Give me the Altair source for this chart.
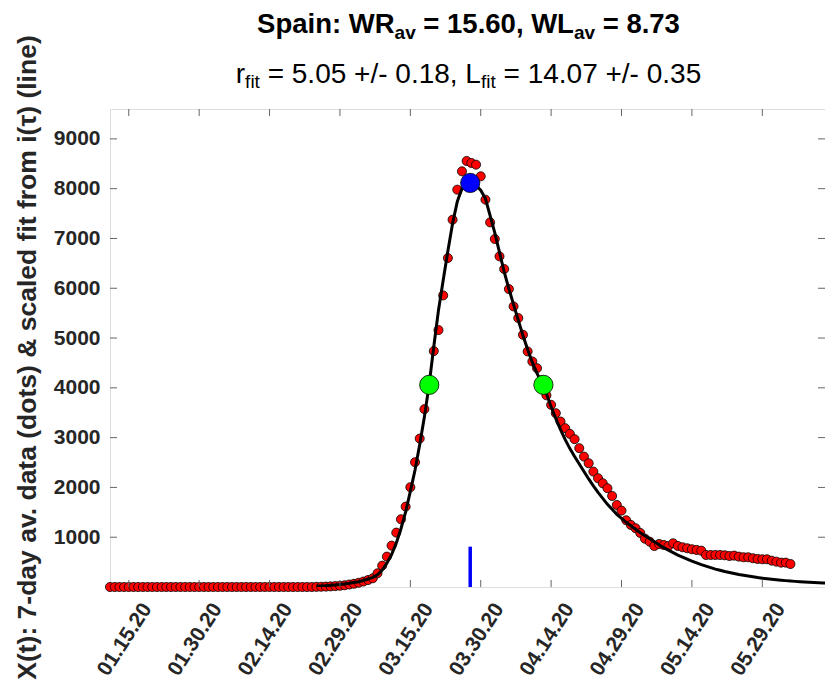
import altair as alt
import pandas as pd

# ---------------- data ----------------
DATA_START = "2020-01-11"
dot_values = [
    0, 0, 0, 0, 0, 0, 0, 0, 0, 0, 0, 0, 0, 0, 0, 0, 0, 0, 0, 0, 0, 0,
    0, 0, 0, 0, 0, 0, 0, 0, 0, 0, 0, 0, 0, 0, 0, 0, 0, 0, 0, 0, 0, 0,
    3, 5, 8, 12, 18, 25, 35, 50, 65, 85, 110, 140, 175, 275,
    429, 610, 831, 1092, 1360, 1614, 2004, 2506, 2981, 3572,
    4150, 4738, 5160, 5856, 6607, 7377, 7980, 8348, 8556, 8516, 8482, 8248, 7779,
    7323, 6989, 6640, 6386, 5984, 5634, 5401, 5065, 4730, 4529, 4395,
    4150, 3850, 3658, 3491, 3323, 3190, 3075, 2969, 2788, 2619, 2486, 2318, 2185,
    2084, 1984, 1829, 1648, 1534,
    1340, 1246, 1180, 1085, 970, 911, 824, 864, 844, 824, 878, 824, 798, 778,
    758, 744, 730,
    643, 643, 643, 643, 637, 623, 630, 610, 597, 597, 577, 563, 557, 557, 529,
    509, 489, 489, 462,
]

FIT_START = "2020-02-24"
fit_values = [
    18, 22, 27, 33, 41, 50, 61, 74, 90, 105, 130, 160, 195, 245,
    340, 480, 650, 880, 1170, 1510, 1920, 2350, 2860, 3420,
    4060, 4830, 5560, 6160, 6750, 7300, 7740, 8000, 8100, 8110, 8060, 7970, 7800,
    7460, 7110, 6720, 6330, 5990, 5670, 5360, 5050, 4770, 4510, 4290,
    4100, 3880, 3620, 3380, 3160, 2960, 2780, 2620, 2470, 2320, 2170, 2030, 1900,
    1780, 1660, 1560, 1460, 1380, 1300, 1230, 1160, 1090, 1030, 970, 910, 850,
    790, 740, 690, 640, 600, 560, 520, 485, 450, 420, 390, 360, 335, 310, 290,
    270, 250, 235, 220, 205, 190, 178, 166, 155, 145, 136, 128, 120, 113, 106,
    100, 95, 90, 86, 82, 78,
]

tick_dates = ["2020-01-15", "2020-01-30", "2020-02-14", "2020-02-29", "2020-03-15",
              "2020-03-30", "2020-04-14", "2020-04-29", "2020-05-14", "2020-05-29"]
y_ticks = [1000, 2000, 3000, 4000, 5000, 6000, 7000, 8000, 9000]

key_dates = ["2020-03-19T00:43:00Z", "2020-03-27T18:14:00Z", "2020-04-12T08:38:00Z"]
key_values = [4060, 8115, 4060]
key_colors = ["#00ff00", "#0000ff", "#00ff00"]

bar_date = ["2020-03-27T18:14:00Z"]
bar_low = [0]
bar_high = [810]

Y_TITLE = "X(t): 7-day av. data (dots) & scaled fit from i(\u03c4) (line)"
TITLE_1 = [("Spain: WR", "main"), ("av", "sub"), (" = 15.60, WL", "main"),
           ("av", "sub"), (" = 8.73", "main")]
TITLE_2 = [("r", "main"), ("fit", "sub"), (" = 5.05 +/- 0.18, L", "main"),
           ("fit", "sub"), (" = 14.07 +/- 0.35", "main")]

# ---------------- tables ----------------
def iso(dates):
    return [d.strftime("%Y-%m-%dT00:00:00Z") for d in dates]

dots = pd.DataFrame({
    "date": iso(pd.date_range(DATA_START, periods=len(dot_values), freq="D")),
    "v": dot_values,
})
fit = pd.DataFrame({
    "date": iso(pd.date_range(FIT_START, periods=len(fit_values), freq="D")),
    "v": fit_values,
})
keys = pd.DataFrame({"date": key_dates, "v": key_values, "c": key_colors})
bar = pd.DataFrame({"date": bar_date, "v": bar_low, "v2": bar_high})
xt = pd.DataFrame({"date": [d + "T00:00:00Z" for d in tick_dates]})
yt = pd.DataFrame({"v": y_ticks})
one = pd.DataFrame({"k": [0]})

W, H = 715, 478
FONT = "Liberation Sans"
AX = "#666666"
TXT = "#262626"

x_scale = alt.Scale(type="utc", domain=[
    alt.DateTime(year=2020, month=1, date=11, utc=True),
    alt.DateTime(year=2020, month=6, date=11, hours=8, minutes=40, utc=True)])
y_scale = alt.Scale(domain=[0, 9600], nice=False, zero=True)

x_axis = alt.Axis(
    values=[alt.DateTime(year=int(d[:4]), month=int(d[5:7]), date=int(d[8:10]), utc=True)
            for d in tick_dates],
    labelExpr="utcFormat(datum.value, '%m.%d.%y')",
    ticks=False, tickSize=0, domain=False, grid=False,
    labelAngle=303, labelAlign="right", labelBaseline="middle",
    labelOffset=18, labelPadding=18,
    labelFont=FONT, labelFontSize=21, labelFontWeight="bold", labelColor=TXT,
    labelOverlap=False, labelFlush=False, title=None,
)
y_axis = alt.Axis(
    values=y_ticks, format="d",
    ticks=False, tickSize=0, domain=False, grid=False,
    labelFont=FONT, labelFontSize=21, labelFontWeight="bold", labelColor=TXT,
    labelPadding=10,
    title=Y_TITLE, titleFont=FONT, titleFontSize=26.5, titleFontWeight="bold",
    titleColor=TXT, titleAngle=270, titleX=-83, titleY=248,
    titleAlign="center", titleBaseline="middle",
)

X = alt.X("date:T", scale=x_scale, axis=x_axis)
Y = alt.Y("v:Q", scale=y_scale, axis=y_axis)

dots_layer = alt.Chart(dots).mark_circle(
    size=82, color="#ff0000", stroke="#000000", strokeWidth=0.8, opacity=1
).encode(x=X, y=Y)

fit_layer = alt.Chart(fit).mark_line(color="#000000", strokeWidth=3, clip=True).encode(x=X, y=Y)

bar_layer = alt.Chart(bar).mark_rule(color="#0000ff", strokeWidth=3.5).encode(
    x=X, y=Y, y2="v2:Q")

keys_layer = alt.Chart(keys).mark_circle(
    size=370, stroke="#000000", strokeWidth=0.8, opacity=1
).encode(x=X, y=Y, color=alt.Color("c:N", scale=None))

tick_style = dict(color=AX, strokeWidth=1)
bottom_ticks = alt.Chart(xt).mark_rule(**tick_style).encode(
    x=X, y=alt.value(H), y2=alt.value(H - 7))
top_ticks = alt.Chart(xt).mark_rule(**tick_style).encode(
    x=X, y=alt.value(0), y2=alt.value(7))
left_ticks = alt.Chart(yt).mark_rule(**tick_style).encode(
    y=Y, x=alt.value(0), x2=alt.value(7))
right_ticks = alt.Chart(yt).mark_rule(**tick_style).encode(
    y=Y, x=alt.value(W), x2=alt.value(W - 7))

# --- title built from segments (subscripts), centred on the plot ---
ARIAL_REG = {" ": 278, "=": 584, "+": 584, "/": 278, "-": 333, ".": 278, ",": 278,
             "r": 333, "f": 278, "i": 222, "t": 278, "L": 556}
ARIAL_BOLD = {" ": 278, ":": 333, "=": 584, ".": 278, ",": 278, "S": 667, "p": 611,
              "a": 556, "i": 278, "n": 611, "W": 944, "R": 722, "L": 611, "v": 556}


def text_width(s, size, bold):
    table = ARIAL_BOLD if bold else ARIAL_REG
    return sum((556 if ch.isdigit() else table.get(ch, 556)) for ch in s) * size / 1000.0


def title_line(segments, center, base, sub_drop, main_size, sub_size, bold):
    sizes = {"main": main_size, "sub": sub_size}
    total = sum(text_width(t, sizes[k], bold) for t, k in segments)
    x = center - total / 2.0
    layers = []
    for t, k in segments:
        size = sizes[k]
        lead = len(t) - len(t.lstrip(" "))
        x_text = x + text_width(" " * lead, size, bold)
        y = base + (sub_drop if k == "sub" else 0)
        layers.append(alt.Chart(one).mark_text(
            align="left", baseline="alphabetic", font=FONT, fontSize=size,
            fontWeight="bold" if bold else "normal", color="#000000"
        ).encode(x=alt.value(x_text), y=alt.value(y), text=alt.value(t.lstrip(" "))))
        x += text_width(t, size, bold)
    return layers

CENTER = 358.5
title_layers = (title_line(TITLE_1, CENTER, -76, 6, 27.5, 19, True)
                + title_line(TITLE_2, CENTER, -26, 4.5, 28, 19, False))

chart = alt.layer(
    dots_layer, fit_layer, bar_layer, keys_layer,
    bottom_ticks, top_ticks, left_ticks, right_ticks,
    *title_layers,
).properties(
    width=W, height=H,
    autosize=alt.AutoSizeParams(type="none"),
    padding={"left": 102, "top": 101, "right": 0, "bottom": 95},
).configure_view(stroke=AX, strokeWidth=1).configure(background="#ffffff")

chart.save("out.html", embed_options={"renderer": "svg", "actions": False})
